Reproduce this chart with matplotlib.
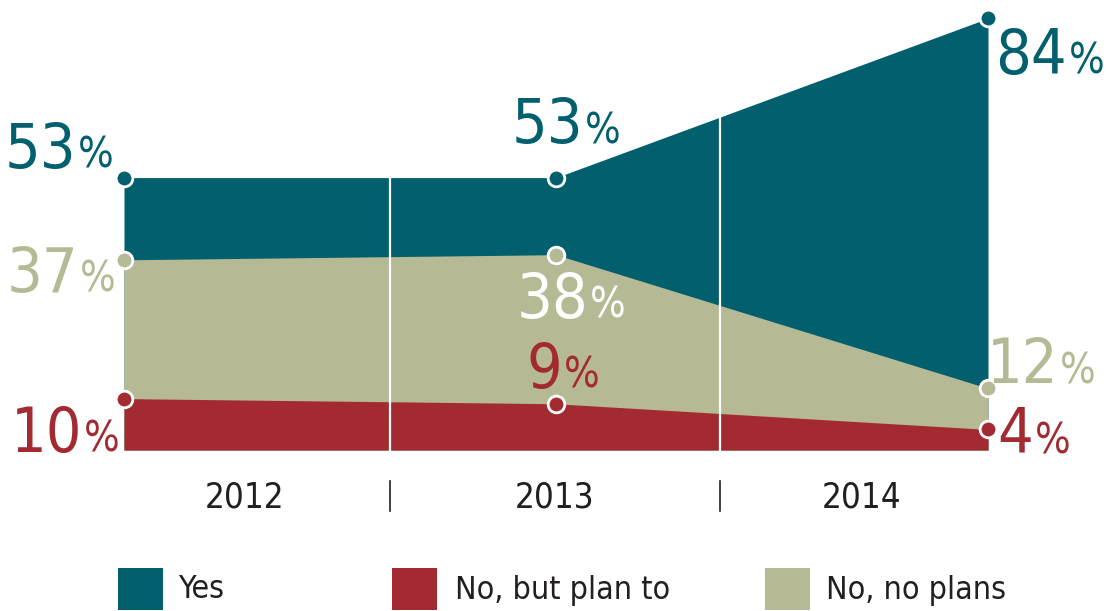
import numpy as np
import matplotlib
matplotlib.use("Agg")
import matplotlib.pyplot as plt
from matplotlib.patches import Rectangle

TEAL, RED, OLIVE, INK = "#015f6e", "#a32a30", "#b5b994", "#231f20"
FONT = ["DejaVu Sans"]
STRETCH = "condensed"

years = ["2012", "2013", "2014"]
yes = [53, 53, 84]
no_plans = [37, 38, 12]
plan_to = [10, 9, 4]
legend_labels = ["Yes", "No, but plan to", "No, no plans"]

W, H = 1108, 611
X0, XS = 124, 432      # pixel of first point, pixels per year step
Y0, YS = 450, 5.14     # pixel of baseline, pixels per percent


def dx(px):
    return (px - X0) / XS


def dy(py):
    return (Y0 - py) / YS


fig = plt.figure(figsize=(W / 100, H / 100), dpi=100)
ax = fig.add_axes([0, 0, 1, 1])
ax.set_xlim(dx(0), dx(W)); ax.set_ylim(dy(H), dy(0))
ax.axis("off")

x = np.arange(len(years))
for vals, col in ((yes, TEAL), (no_plans, OLIVE), (plan_to, RED)):
    ax.fill_between(x, 0, vals, color=col, lw=0, zorder=1)

# white separators between the year bands, plus small ticks below
for sx in (dx(390), dx(720)):
    ax.plot([sx, sx], [0, np.interp(sx, x, yes)], color="white", lw=1.6, zorder=2)
    ax.plot([sx, sx], [dy(481), dy(511)], color=INK, lw=1.2)

for vals, col in ((yes, TEAL), (no_plans, OLIVE), (plan_to, RED)):
    ax.plot(x, vals, ls="none", marker="o", ms=12, mfc=col, mec="white",
            mew=2, zorder=4, clip_on=False)

# value labels: (series, index, split pixel x, baseline pixel y, colour)
labels = [
    (yes, 0, 76, 168, TEAL), (no_plans, 0, 78, 292, OLIVE), (plan_to, 0, 82, 452, RED),
    (yes, 1, 583, 143, TEAL), (no_plans, 1, 588, 318, "white"), (plan_to, 1, 562, 388, RED),
    (yes, 2, 1067, 74, TEAL), (no_plans, 2, 1058, 383, OLIVE), (plan_to, 2, 1033, 453, RED),
]
for vals, i, sx, by, col in labels:
    ax.text(dx(sx), dy(by), str(vals[i]), ha="right", va="baseline", fontsize=45,
            color=col, family=FONT, fontstretch=STRETCH, zorder=5)
    ax.text(dx(sx + 2), dy(by), "%", ha="left", va="baseline", fontsize=30,
            color=col, family=FONT, fontstretch=STRETCH, zorder=5)

for xp, yr in zip((245, 555, 862), years):
    ax.text(dx(xp), dy(497), yr, ha="center", va="center", fontsize=25,
            color=INK, family=FONT, fontstretch=STRETCH)

# legend drawn by hand along the bottom
for (sq, tx), lab, col in zip(((118, 178), (392, 455), (765, 826)), legend_labels,
                              (TEAL, RED, OLIVE)):
    fig.patches.append(Rectangle((sq / W, 1 - 610 / H), 45 / W, 42 / H,
                                 transform=fig.transFigure, color=col, lw=0))
    fig.text(tx / W, 1 - 590 / H, lab, ha="left", va="center", fontsize=23,
             color=INK, family=FONT, fontstretch=STRETCH)

fig.savefig("out.png", dpi=100)
